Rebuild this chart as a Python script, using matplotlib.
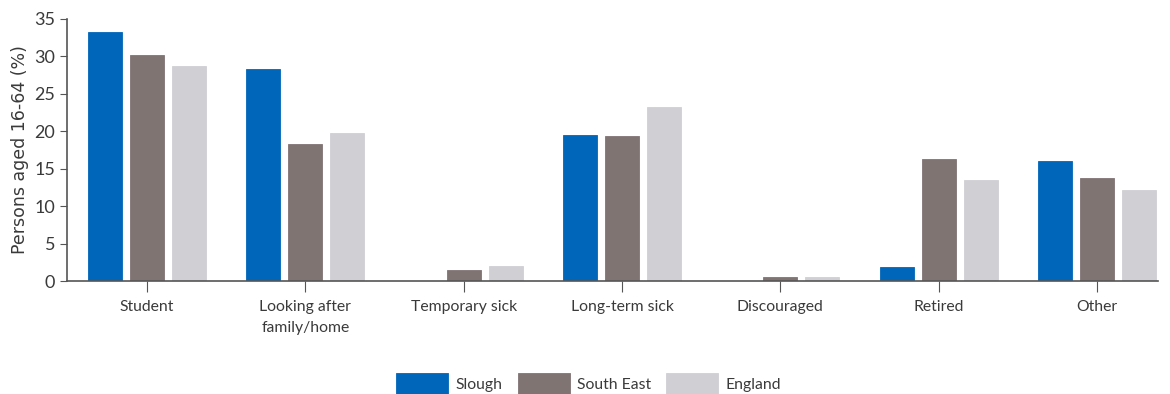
import matplotlib.pyplot as plt
import numpy as np

categories = ["Student", "Looking after\nfamily/home", "Temporary sick", "Long-term sick",
              "Discouraged", "Retired", "Other"]
slough = [33.3, 28.3, 0.0, 19.5, 0.0, 1.9, 16.0]
south_east = [30.2, 18.3, 1.5, 19.4, 0.5, 16.3, 13.8]
england = [28.7, 19.8, 2.0, 23.2, 0.5, 13.5, 12.2]
series_names = ["Slough", "South East", "England"]
colors = ["#0066b9", "#807473", "#d0d0d4"]

plt.rcParams['font.family'] = ['Lato', 'DejaVu Sans']

fig = plt.figure(figsize=(11.7, 3.94), dpi=100)
ax = fig.add_axes([0.0573, 0.2868, 0.9324, 0.665])

x = np.arange(len(categories))
step = 0.265
width = 0.215
for i, (vals, name, col) in enumerate(zip([slough, south_east, england], series_names, colors)):
    ax.bar(x + (i - 1) * step, vals, width, color=col, label=name,
           edgecolor=col, linewidth=0.6)

ax.set_xlim(-0.505, 6.385)
ax.set_ylim(0, 35)
ax.set_yticks(range(0, 36, 5))
ax.set_xticks(x)
ax.set_xticklabels(categories, fontsize=11.3, color="#3a3a3a", linespacing=1.6)
ax.tick_params(axis='y', labelsize=13, colors="#3a3a3a", length=5, color="#555555")
ax.tick_params(axis='x', length=8, color="#555555", pad=6)

for s in ['top', 'right']:
    ax.spines[s].set_visible(False)
for s in ['left', 'bottom']:
    ax.spines[s].set_color("#555555")
    ax.spines[s].set_linewidth(1.2)

ax.set_ylabel("Persons aged 16-64 (%)", fontsize=12.5, color="#3a3a3a", labelpad=4,
              family=['DejaVu Sans'])

# legend is centred on the figure, not the axes
fig.legend(loc='upper center', bbox_to_anchor=(0.503, 0.068), ncol=3, frameon=False,
           fontsize=11.3, handlelength=3.3, handleheight=1.6, columnspacing=1.0,
           handletextpad=0.45, labelcolor="#3a3a3a", borderaxespad=0)

fig.savefig("out.png", dpi=100)
